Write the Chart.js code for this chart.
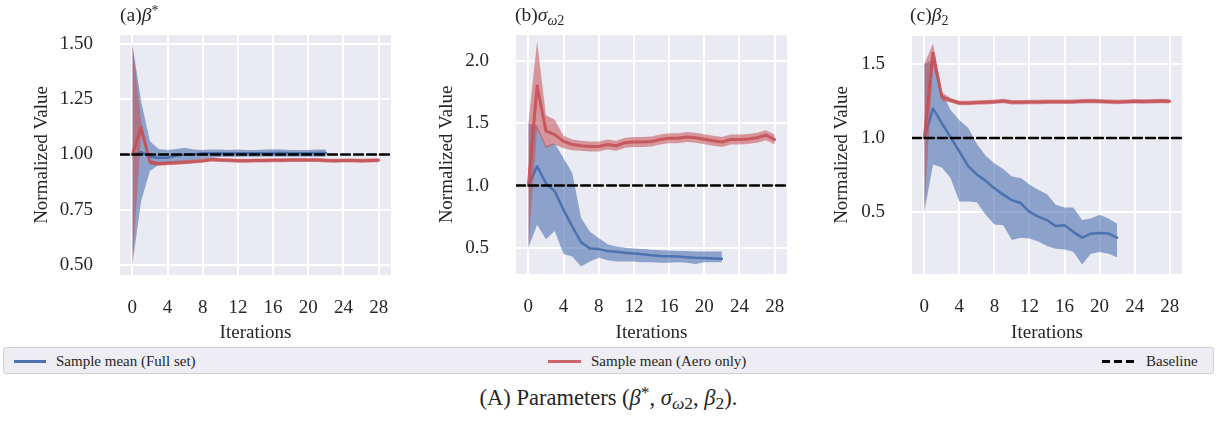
<!DOCTYPE html>
<html>
<head>
<meta charset="utf-8">
<script src="https://cdn.jsdelivr.net/npm/chart.js@4/dist/chart.umd.min.js"></script>
<style>
  body { margin: 0; background: #fff; }
  #fig { position: relative; width: 1217px; height: 421px; font-family: 'Liberation Serif', serif; color: #262626; }
  canvas { position: absolute; top: 0; }
  .ttl { position: absolute; top: 3px; font-size: 19.5px; line-height: 24px; white-space: nowrap; }
  .m { font-style: italic; }
  sub { font-size: 0.72em; vertical-align: -0.25em; line-height: 0; }
  sup { font-size: 0.72em; vertical-align: 0.4em; line-height: 0; }
  #legend { position: absolute; left: 3px; top: 347px; width: 1209px; height: 25px; background: #ededf3; border: 1px solid #cfcfd6; border-radius: 3px; }
  .item { position: absolute; top: 4px; font-size: 15px; line-height: 18px; white-space: nowrap; }
  .swatch { position: absolute; top: 12px; height: 3px; }
  #caption { position: absolute; top: 384px; left: 0; width: 1217px; text-align: center; font-size: 22.5px; line-height: 28px; }
  #caption sub, #caption sup { font-size: 0.78em; }
</style>
</head>
<body>
<div id="fig">
  <canvas id="chartA" width="400" height="345" style="left:0px"></canvas>
  <canvas id="chartB" width="400" height="345" style="left:400px"></canvas>
  <canvas id="chartC" width="417" height="345" style="left:800px"></canvas>

  <div class="ttl" style="left:120px">(a)<span class="m">β</span><sup>*</sup></div>
  <div class="ttl" style="left:515px">(b)<span class="m">σ</span><sub><span class="m">ω</span>2</sub></div>
  <div class="ttl" style="left:910px">(c)<span class="m">β</span><sub>2</sub></div>

  <div id="legend">
    <div class="swatch" style="left:10px; width:32px; background:#4C72B0"></div>
    <div class="item" style="left:52px">Sample mean (Full set)</div>
    <div class="swatch" style="left:544px; width:33px; background:rgba(196,78,82,0.85)"></div>
    <div class="item" style="left:587px">Sample mean (Aero only)</div>
    <div class="swatch" style="left:1098px; width:33px; background:repeating-linear-gradient(90deg,#000 0 8px,transparent 8px 12px)"></div>
    <div class="item" style="left:1142px">Baseline</div>
  </div>

  <div id="caption">(A) Parameters (<span class="m">β</span><sup>*</sup>, <span class="m">σ</span><sub><span class="m">ω</span>2</sub>, <span class="m">β</span><sub>2</sub>).</div>
</div>

<script>
// x ticks shared by all three panels
const xTicks = [0, 4, 8, 12, 16, 20, 24, 28];
const baselineValue = 1.0;

// (a) beta*
const aFullMean = [1.0, 1.01, 0.99, 0.985, 0.985, 0.995, 1.0, 1.0, 1.005, 1.005, 1.005, 1.005, 1.005, 1.005, 1.005, 1.005, 1.006, 1.006, 1.005, 1.005, 1.005, 1.006, 1.006];
const aFullHi   = [1.5, 1.24, 1.06, 1.025, 1.02, 1.025, 1.03, 1.022, 1.02, 1.022, 1.022, 1.02, 1.022, 1.02, 1.02, 1.022, 1.024, 1.022, 1.02, 1.02, 1.02, 1.022, 1.022];
const aFullLo   = [0.5, 0.79, 0.925, 0.953, 0.96, 0.965, 0.97, 0.975, 0.98, 0.985, 0.988, 0.988, 0.99, 0.99, 0.99, 0.99, 0.99, 0.99, 0.99, 0.99, 0.99, 0.99, 0.99];
const aAeroMean = [1.0, 1.12, 0.965, 0.958, 0.96, 0.962, 0.965, 0.968, 0.972, 0.977, 0.975, 0.974, 0.972, 0.972, 0.973, 0.973, 0.974, 0.974, 0.975, 0.975, 0.975, 0.975, 0.973, 0.972, 0.973, 0.973, 0.972, 0.973, 0.974];
const aAeroHi   = [1.5, 1.15, 0.976, 0.967, 0.969, 0.971, 0.974, 0.977, 0.981, 0.986, 0.984, 0.983, 0.981, 0.981, 0.982, 0.982, 0.983, 0.983, 0.984, 0.984, 0.984, 0.984, 0.982, 0.981, 0.982, 0.982, 0.981, 0.982, 0.983];
const aAeroLo   = [0.5, 1.09, 0.954, 0.949, 0.951, 0.953, 0.956, 0.959, 0.963, 0.968, 0.966, 0.965, 0.963, 0.963, 0.964, 0.964, 0.965, 0.965, 0.966, 0.966, 0.966, 0.966, 0.964, 0.963, 0.964, 0.964, 0.963, 0.964, 0.965];
const aYTicks = [0.5, 0.75, 1.0, 1.25, 1.5];

// (b) sigma_omega2
const bFullMean = [1.0, 1.155, 1.02, 0.955, 0.805, 0.67, 0.545, 0.495, 0.49, 0.475, 0.468, 0.46, 0.455, 0.448, 0.44, 0.435, 0.432, 0.43, 0.425, 0.42, 0.418, 0.415, 0.413];
const bFullHi   = [1.5, 1.48, 1.32, 1.34, 1.22, 1.10, 0.74, 0.63, 0.58, 0.53, 0.51, 0.5, 0.495, 0.49, 0.485, 0.48, 0.478, 0.475, 0.475, 0.47, 0.47, 0.47, 0.47];
const bFullLo   = [0.5, 0.685, 0.57, 0.635, 0.45, 0.43, 0.35, 0.39, 0.42, 0.40, 0.39, 0.39, 0.39, 0.385, 0.385, 0.38, 0.38, 0.385, 0.38, 0.37, 0.385, 0.385, 0.385];
const bAeroMean = [1.0, 1.80, 1.44, 1.41, 1.355, 1.33, 1.32, 1.315, 1.315, 1.33, 1.32, 1.345, 1.35, 1.35, 1.355, 1.37, 1.38, 1.38, 1.39, 1.385, 1.373, 1.36, 1.35, 1.37, 1.37, 1.375, 1.385, 1.405, 1.37];
const bAeroHi   = [1.5, 2.16, 1.565, 1.53, 1.40, 1.37, 1.36, 1.355, 1.355, 1.37, 1.36, 1.385, 1.39, 1.39, 1.395, 1.41, 1.42, 1.42, 1.43, 1.425, 1.413, 1.40, 1.39, 1.41, 1.41, 1.415, 1.425, 1.445, 1.41];
const bAeroLo   = [0.5, 1.45, 1.30, 1.33, 1.30, 1.285, 1.28, 1.275, 1.275, 1.29, 1.28, 1.305, 1.31, 1.31, 1.315, 1.33, 1.34, 1.34, 1.35, 1.345, 1.333, 1.32, 1.31, 1.33, 1.33, 1.335, 1.345, 1.365, 1.33];
const bYTicks = [0.5, 1.0, 1.5, 2.0];

// (c) beta2
const cFullMean = [1.0, 1.2, 1.10, 1.005, 0.91, 0.81, 0.753, 0.71, 0.66, 0.617, 0.58, 0.56, 0.50, 0.468, 0.445, 0.404, 0.41, 0.365, 0.326, 0.353, 0.358, 0.354, 0.326];
const cFullHi   = [1.5, 1.53, 1.31, 1.19, 1.12, 1.07, 0.96, 0.88, 0.83, 0.79, 0.74, 0.73, 0.685, 0.65, 0.62, 0.548, 0.53, 0.53, 0.445, 0.456, 0.48, 0.455, 0.42];
const cFullLo   = [0.5, 0.82, 0.80, 0.73, 0.57, 0.57, 0.565, 0.48, 0.415, 0.41, 0.31, 0.325, 0.32, 0.30, 0.27, 0.25, 0.245, 0.23, 0.144, 0.217, 0.228, 0.217, 0.194];
const cAeroMean = [1.0, 1.575, 1.28, 1.255, 1.237, 1.237, 1.24, 1.242, 1.245, 1.25, 1.242, 1.242, 1.243, 1.244, 1.245, 1.246, 1.245, 1.246, 1.248, 1.25, 1.249, 1.246, 1.243, 1.246, 1.249, 1.247, 1.248, 1.25, 1.248];
const cAeroHi   = [1.5, 1.64, 1.31, 1.27, 1.252, 1.252, 1.255, 1.257, 1.26, 1.265, 1.257, 1.257, 1.258, 1.259, 1.26, 1.261, 1.26, 1.261, 1.263, 1.265, 1.264, 1.261, 1.258, 1.261, 1.264, 1.262, 1.263, 1.265, 1.263];
const cAeroLo   = [0.5, 1.50, 1.25, 1.24, 1.222, 1.222, 1.225, 1.227, 1.23, 1.235, 1.227, 1.227, 1.228, 1.229, 1.23, 1.231, 1.23, 1.231, 1.233, 1.235, 1.234, 1.231, 1.228, 1.231, 1.234, 1.232, 1.233, 1.235, 1.233];
const cYTicks = [0.5, 1.0, 1.5];

const BLUE = '#4C72B0';
const BLUE_BAND = 'rgba(76, 114, 176, 0.6)';
const RED_LINE = 'rgba(196, 78, 82, 0.85)';
const RED_BAND = 'rgba(196, 78, 82, 0.55)';
const X_MIN = -1.4, X_MAX = 29.4;

Chart.defaults.font.family = "'Liberation Serif', serif";
Chart.defaults.color = '#262626';

const toXY = arr => arr.map((v, i) => ({ x: i, y: v }));

// seaborn-style grey plot area
const plotBg = {
    id: 'plotBg',
    beforeDraw(chart) {
        const { ctx, chartArea: a } = chart;
        ctx.save();
        ctx.fillStyle = '#EAEAF2';
        ctx.fillRect(a.left, a.top, a.right - a.left, a.bottom - a.top);
        ctx.restore();
    }
};

function makePanel(id, p) {
    const ctx = document.getElementById(id).getContext('2d');
    return new Chart(ctx, {
        type: 'line',
        data: {
            datasets: [
                { data: [{ x: X_MIN, y: baselineValue }, { x: X_MAX, y: baselineValue }],
                  borderColor: '#000', borderWidth: 2.5, borderDash: [9, 4], order: 0 },
                { data: toXY(p.aeroMean), borderColor: RED_LINE, borderWidth: 3, order: 1 },
                { data: toXY(p.aeroHi), borderWidth: 0, backgroundColor: RED_BAND, fill: 3, order: 2 },
                { data: toXY(p.aeroLo), borderWidth: 0, fill: false, order: 2 },
                { data: toXY(p.fullMean), borderColor: BLUE, borderWidth: 2.5, order: 3 },
                { data: toXY(p.fullHi), borderWidth: 0, backgroundColor: BLUE_BAND, fill: 6, order: 4 },
                { data: toXY(p.fullLo), borderWidth: 0, fill: false, order: 4 }
            ]
        },
        options: {
            responsive: false,
            animation: false,
            events: [],
            elements: { point: { radius: 0 }, line: { tension: 0, borderJoinStyle: 'round', borderCapStyle: 'round' } },
            layout: { padding: { top: p.top, right: p.right, bottom: 0, left: 0 } },
            plugins: { legend: { display: false }, tooltip: { enabled: false } },
            scales: {
                x: {
                    type: 'linear', min: X_MIN, max: X_MAX,
                    afterBuildTicks: s => { s.ticks = xTicks.map(v => ({ value: v })); },
                    afterFit: s => { s.height = p.xHeight; s.paddingLeft = 0; s.paddingRight = 0; },
                    grid: { color: '#fff', lineWidth: 2, drawTicks: false },
                    border: { display: false },
                    ticks: { padding: 22, font: { size: 19 }, maxRotation: 0 },
                    title: { display: true, text: 'Iterations', font: { size: 19 }, padding: { top: 0, bottom: 1 } }
                },
                y: {
                    type: 'linear', min: p.yMin, max: p.yMax,
                    afterBuildTicks: s => { s.ticks = p.yTicks.map(v => ({ value: v })); },
                    afterFit: s => { s.width = p.yWidth; s.paddingTop = 0; s.paddingBottom = 0; },
                    grid: { color: '#fff', lineWidth: 2, drawTicks: false },
                    border: { display: false },
                    ticks: { padding: 27, font: { size: 19 }, callback: v => v.toFixed(p.decimals) },
                    title: { display: true, text: 'Normalized Value', font: { size: 19 }, padding: { top: p.yTitlePad, bottom: 0 } }
                }
            }
        },
        plugins: [plotBg]
    });
}

makePanel('chartA', {
    fullMean: aFullMean, fullHi: aFullHi, fullLo: aFullLo,
    aeroMean: aAeroMean, aeroHi: aAeroHi, aeroLo: aAeroLo,
    yTicks: aYTicks, yMin: 0.455, yMax: 1.54, decimals: 2,
    top: 35, right: 9, yWidth: 120, xHeight: 70, yTitlePad: 30.6
});
makePanel('chartB', {
    fullMean: bFullMean, fullHi: bFullHi, fullLo: bFullLo,
    aeroMean: bAeroMean, aeroHi: bAeroHi, aeroLo: bAeroLo,
    yTicks: bYTicks, yMin: 0.29, yMax: 2.21, decimals: 1,
    top: 35, right: 13, yWidth: 116, xHeight: 71, yTitlePad: 35.3
});
makePanel('chartC', {
    fullMean: cFullMean, fullHi: cFullHi, fullLo: cFullLo,
    aeroMean: cAeroMean, aeroHi: cAeroHi, aeroLo: cAeroLo,
    yTicks: cYTicks, yMin: 0.08, yMax: 1.69, decimals: 1,
    top: 36, right: 35, yWidth: 112, xHeight: 71, yTitlePad: 31.1
});
</script>
</body>
</html>
